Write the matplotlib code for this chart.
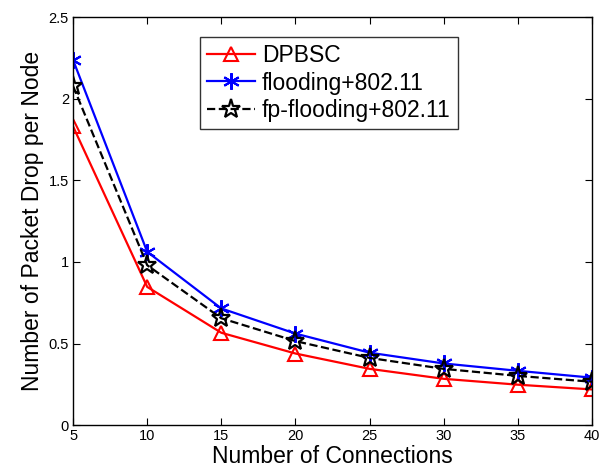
import matplotlib
matplotlib.use("Agg")
import matplotlib.pyplot as plt

plt.rcParams['font.family'] = ['Liberation Sans', 'DejaVu Sans']

connections = [5, 10, 15, 20, 25, 30, 35, 40]
dpbsc = [1.83, 0.847, 0.566, 0.439, 0.345, 0.284, 0.248, 0.219]
flooding = [2.237, 1.062, 0.715, 0.561, 0.444, 0.378, 0.333, 0.291]
fp_flooding = [2.077, 0.98, 0.655, 0.515, 0.412, 0.345, 0.302, 0.266]

xticks = [5, 10, 15, 20, 25, 30, 35, 40]
yticks = [0, 0.5, 1, 1.5, 2, 2.5]
ytick_labels = ['0', '0.5', '1', '1.5', '2', '2.5']

fig = plt.figure(figsize=(6.09, 4.74), dpi=100)
ax = fig.add_axes([0.120, 0.103, 0.852, 0.861])

ax.plot(connections, dpbsc, color='red', lw=1.6, marker='^', ms=10,
        mfc='none', mec='red', mew=1.5, label='DPBSC')
ax.plot(connections, flooding, color='blue', lw=1.6, marker=(6, 2, 0), ms=12,
        mec='blue', mew=1.5, label='flooding+802.11')
ax.plot(connections, fp_flooding, color='black', lw=1.6, ls='--', marker='*', ms=14,
        mfc='none', mec='black', mew=1.6, label='fp-flooding+802.11')

ax.set_xlim(5, 40)
ax.set_ylim(0, 2.5)
ax.set_xticks(xticks)
ax.set_yticks(yticks)
ax.set_yticklabels(ytick_labels)
ax.tick_params(direction='in', top=True, right=True, length=5, width=0.8,
               labelsize=10.5, pad=3)
for s in ax.spines.values():
    s.set_linewidth(1.0)

ax.set_xlabel('Number of Connections', fontsize=16.5, labelpad=1)
ax.set_ylabel('Number of Packet Drop per Node', fontsize=16.5, labelpad=3)

leg = ax.legend(loc='upper left', bbox_to_anchor=(0.245, 0.951), borderaxespad=0,
                fontsize=16.5, frameon=True, fancybox=False, edgecolor='black',
                handlelength=2.1, borderpad=0.3, labelspacing=0.2,
                handletextpad=0.3)
leg.get_frame().set_linewidth(1.0)

fig.savefig('out.png', dpi=100)
